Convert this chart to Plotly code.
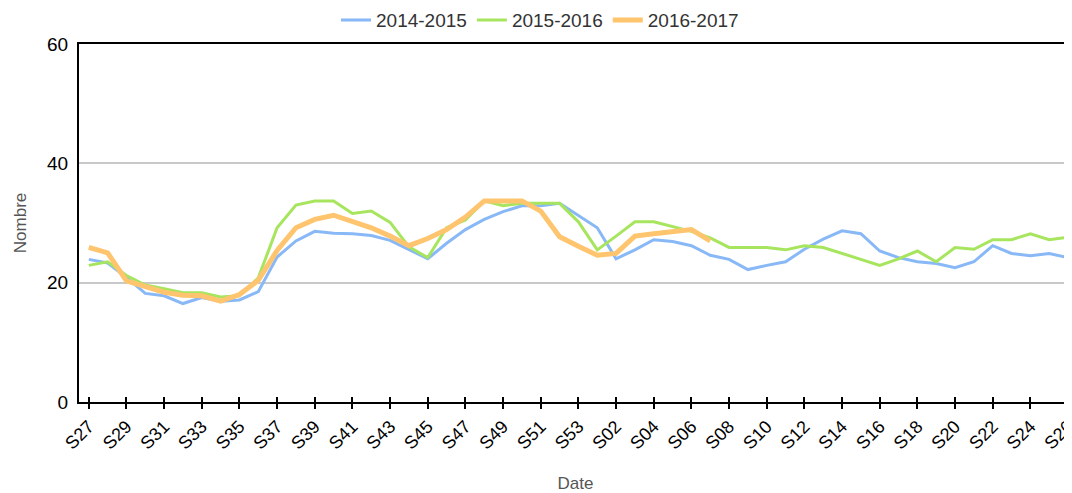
import plotly.graph_objects as go

weeks = [f"S{n}" for n in range(27, 54)] + [f"S{n:02d}" for n in range(1, 27)]
tick_labels = weeks[::2]

s2014_2015 = [23.9, 23.3, 20.9, 18.2, 17.8, 16.5, 17.5, 16.9, 17.1, 18.5,
              24.3, 27.0, 28.6, 28.3, 28.2, 27.9, 27.1, 25.5, 24.0, 26.6,
              28.9, 30.6, 31.9, 32.9, 32.9, 33.3, 31.3, 29.2, 24.0, 25.5,
              27.2, 26.9, 26.2, 24.6, 23.9, 22.2, 22.9, 23.5, 25.6, 27.3,
              28.7, 28.2, 25.3, 24.2, 23.5, 23.2, 22.5, 23.5, 26.2, 24.9,
              24.5, 24.9, 24.2]
s2015_2016 = [22.9, 23.5, 21.2, 19.6, 19.0, 18.3, 18.3, 17.6, 17.8, 20.8,
              29.2, 33.0, 33.7, 33.7, 31.6, 32.0, 30.1, 26.0, 24.2, 29.2,
              30.5, 33.7, 32.9, 33.3, 33.3, 33.3, 30.2, 25.5, 27.8, 30.2,
              30.2, 29.4, 28.6, 27.5, 25.9, 25.9, 25.9, 25.5, 26.2, 25.9,
              24.9, 23.9, 22.9, 24.0, 25.3, 23.5, 25.9, 25.6, 27.2, 27.2,
              28.2, 27.2, 27.6]
s2016_2017 = [25.9, 25.0, 20.3, 19.3, 18.4, 17.9, 17.8, 16.9, 18.0, 20.4,
              25.4, 29.2, 30.6, 31.3, 30.2, 29.2, 27.8, 26.2, 27.4, 28.9,
              31.0, 33.7, 33.7, 33.7, 32.0, 27.7, 26.1, 24.6, 24.9, 27.8,
              28.2, 28.6, 28.9, 27.0]

series = [
    ("2014-2015", s2014_2015, "#88b8f6", 3),
    ("2015-2016", s2015_2016, "#a6e55d", 3),
    ("2016-2017", s2016_2017, "#ffc46e", 5),
]

FONT = "Liberation Sans, Arial, sans-serif"

fig = go.Figure()
for name, vals, color, w in series:
    fig.add_trace(go.Scatter(
        x=weeks[:len(vals)], y=vals, name=name, mode="lines",
        line=dict(color=color, width=w),
    ))

# page body keeps an 8px default margin, so the figure is sized to fit the window
fig.update_layout(
    width=1064, height=485,
    margin=dict(l=71, r=0, t=36, b=91),
    plot_bgcolor="white", paper_bgcolor="white",
    font=dict(family=FONT, size=18, color="#000000"),
    showlegend=True,
    legend=dict(
        orientation="h", xref="container", x=0.5, xanchor="center",
        yref="container", y=0.975, yanchor="middle",
        font=dict(size=19, color="#333333"),
        itemwidth=30, traceorder="normal",
    ),
    xaxis=dict(
        type="category", categoryorder="array", categoryarray=weeks,
        range=[-0.52, 52.21],
        tickmode="array", tickvals=tick_labels, ticktext=tick_labels,
        tickangle=-45, ticks="outside", ticklen=5, tickwidth=2, tickcolor="#000",
        minor=dict(ticks="inside", ticklen=5, tickwidth=2, tickcolor="#000",
                   tickmode="array", tickvals=tick_labels, showgrid=False),
        showline=True, linecolor="#000", linewidth=2, mirror=True,
        showgrid=False, zeroline=False,
        tickfont=dict(size=18, color="#000"),
        title=dict(text="Date", font=dict(size=17, color="#555555"), standoff=26),
        automargin=False,
    ),
    yaxis=dict(
        range=[0, 60], tickvals=[0, 20, 40, 60],
        showline=True, linecolor="#000", linewidth=2,
        showgrid=True, gridcolor="#c8c8c8", gridwidth=2,
        zeroline=False, ticks="", ticklabelstandoff=5,
        tickfont=dict(size=19, color="#000"),
        title=dict(text="Nombre", font=dict(size=17, color="#555555"), standoff=16),
        automargin=False,
    ),
)

fig.write_html("out.html")
